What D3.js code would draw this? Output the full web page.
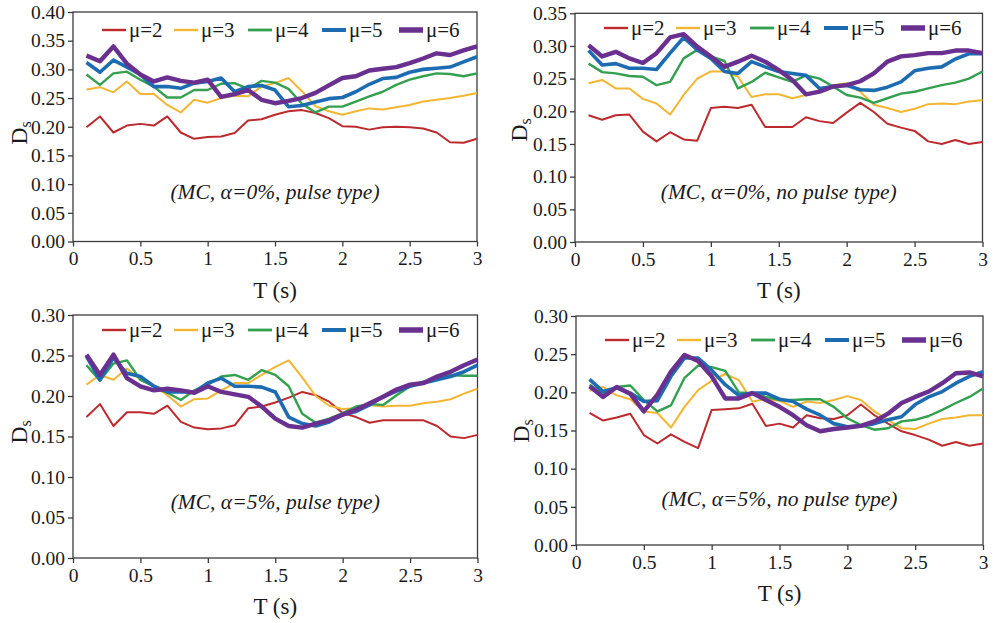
<!DOCTYPE html>
<html>
<head>
<meta charset="utf-8">
<script src="https://cdn.jsdelivr.net/npm/d3@7"></script>
<style>
	body { margin: 0; background: #fff; }
	svg text { font-family: "Liberation Serif", "Times New Roman", serif; fill: #1a1a1a; }
	.axis path, .axis line { stroke: #3c3c3c; stroke-width: 1.3; }
	.axis text { font-size: 19.5px; }
	.frame { fill: none; stroke: #3c3c3c; stroke-width: 1.3; }
	.series { fill: none; stroke-linejoin: round; }
</style>
</head>
<body>
<div id="chart-area"></div>
<script>

// SVG Size
var width = 997,
	height = 623;

// Period T (s)
var periods = [0.1, 0.2, 0.3, 0.4, 0.5, 0.6, 0.7, 0.8, 0.9, 1.0,
	1.1, 1.2, 1.3, 1.4, 1.5, 1.6, 1.7, 1.8, 1.9, 2.0,
	2.1, 2.2, 2.3, 2.4, 2.5, 2.6, 2.7, 2.8, 2.9, 3.0];

var seriesNames = ["μ=2", "μ=3", "μ=4", "μ=5", "μ=6"];
var xTicks = [0, 0.5, 1, 1.5, 2, 2.5, 3];

// MC, alpha=0%, pulse type
var a0Pulse2 = [0.199,0.218,0.190,0.202,0.205,0.202,0.218,0.190,0.179,0.182,0.183,0.189,0.211,0.213,0.221,0.227,0.229,0.224,0.215,0.201,0.200,0.195,0.199,0.200,0.199,0.197,0.190,0.173,0.172,0.179];
var a0Pulse3 = [0.265,0.269,0.260,0.279,0.257,0.257,0.238,0.225,0.247,0.242,0.250,0.254,0.253,0.270,0.276,0.285,0.262,0.236,0.227,0.221,0.227,0.232,0.230,0.234,0.238,0.244,0.247,0.250,0.254,0.259];
var a0Pulse4 = [0.291,0.273,0.293,0.296,0.282,0.270,0.251,0.251,0.264,0.264,0.275,0.276,0.266,0.280,0.277,0.266,0.240,0.225,0.235,0.235,0.244,0.253,0.261,0.273,0.282,0.288,0.293,0.292,0.288,0.293];
var a0Pulse5 = [0.312,0.295,0.316,0.304,0.291,0.270,0.270,0.267,0.276,0.279,0.285,0.261,0.270,0.272,0.264,0.235,0.237,0.243,0.249,0.251,0.261,0.274,0.284,0.286,0.295,0.300,0.302,0.304,0.313,0.322];
var a0Pulse6 = [0.324,0.314,0.340,0.310,0.291,0.279,0.286,0.280,0.277,0.282,0.252,0.257,0.264,0.247,0.241,0.245,0.250,0.259,0.272,0.285,0.288,0.298,0.301,0.304,0.311,0.319,0.328,0.325,0.333,0.340];

// MC, alpha=0%, no pulse type
var a0NoPulse2 = [0.194,0.187,0.194,0.195,0.169,0.154,0.168,0.157,0.155,0.205,0.207,0.205,0.210,0.176,0.176,0.176,0.191,0.185,0.182,0.198,0.213,0.199,0.181,0.175,0.170,0.154,0.150,0.156,0.150,0.153];
var a0NoPulse3 = [0.243,0.248,0.235,0.235,0.219,0.212,0.195,0.225,0.250,0.261,0.261,0.253,0.222,0.226,0.226,0.220,0.225,0.229,0.240,0.243,0.230,0.210,0.205,0.199,0.204,0.211,0.212,0.211,0.215,0.217];
var a0NoPulse4 = [0.273,0.260,0.258,0.254,0.253,0.240,0.245,0.281,0.294,0.284,0.277,0.235,0.245,0.259,0.252,0.245,0.255,0.250,0.238,0.225,0.221,0.213,0.220,0.227,0.230,0.235,0.240,0.244,0.250,0.261];
var a0NoPulse5 = [0.293,0.271,0.273,0.266,0.266,0.264,0.289,0.313,0.294,0.281,0.261,0.258,0.276,0.268,0.261,0.258,0.255,0.235,0.238,0.240,0.233,0.232,0.237,0.245,0.262,0.266,0.268,0.280,0.288,0.288];
var a0NoPulse6 = [0.301,0.284,0.291,0.281,0.274,0.289,0.313,0.318,0.299,0.284,0.268,0.276,0.285,0.276,0.263,0.248,0.226,0.230,0.238,0.240,0.246,0.258,0.276,0.284,0.286,0.289,0.289,0.293,0.293,0.289];

// MC, alpha=5%, pulse type
var a5Pulse2 = [0.174,0.190,0.163,0.180,0.180,0.178,0.188,0.168,0.161,0.159,0.160,0.164,0.185,0.187,0.192,0.198,0.205,0.201,0.193,0.179,0.174,0.167,0.170,0.170,0.170,0.170,0.163,0.150,0.148,0.152];
var a5Pulse3 = [0.214,0.226,0.220,0.234,0.220,0.212,0.201,0.187,0.196,0.197,0.207,0.216,0.216,0.226,0.236,0.244,0.223,0.200,0.188,0.184,0.185,0.189,0.187,0.188,0.188,0.191,0.193,0.196,0.203,0.209];
var a5Pulse4 = [0.238,0.219,0.240,0.244,0.220,0.212,0.204,0.195,0.207,0.214,0.224,0.226,0.220,0.232,0.226,0.212,0.178,0.167,0.172,0.179,0.187,0.190,0.189,0.201,0.212,0.218,0.222,0.226,0.225,0.225];
var a5Pulse5 = [0.249,0.220,0.247,0.228,0.224,0.212,0.205,0.205,0.205,0.216,0.222,0.212,0.212,0.211,0.205,0.174,0.166,0.163,0.168,0.177,0.181,0.189,0.199,0.206,0.212,0.216,0.220,0.224,0.230,0.238];
var a5Pulse6 = [0.251,0.226,0.251,0.222,0.212,0.207,0.209,0.207,0.204,0.212,0.205,0.202,0.199,0.187,0.172,0.163,0.161,0.166,0.170,0.177,0.183,0.191,0.199,0.208,0.214,0.216,0.224,0.230,0.238,0.245];

// MC, alpha=5%, no pulse type
var a5NoPulse2 = [0.173,0.163,0.167,0.172,0.144,0.133,0.145,0.135,0.127,0.177,0.178,0.179,0.185,0.156,0.159,0.154,0.170,0.166,0.165,0.170,0.184,0.170,0.159,0.149,0.144,0.138,0.130,0.135,0.130,0.133];
var a5NoPulse3 = [0.202,0.207,0.196,0.191,0.175,0.173,0.154,0.181,0.203,0.215,0.224,0.216,0.188,0.191,0.189,0.181,0.188,0.186,0.190,0.195,0.190,0.175,0.164,0.153,0.152,0.159,0.165,0.167,0.170,0.170];
var a5NoPulse4 = [0.210,0.199,0.207,0.209,0.190,0.175,0.183,0.219,0.235,0.233,0.228,0.200,0.199,0.194,0.190,0.190,0.191,0.191,0.181,0.166,0.157,0.151,0.153,0.162,0.164,0.169,0.177,0.186,0.194,0.205];
var a5NoPulse5 = [0.217,0.201,0.206,0.199,0.188,0.189,0.221,0.245,0.245,0.229,0.210,0.196,0.199,0.199,0.191,0.188,0.178,0.170,0.159,0.155,0.156,0.159,0.164,0.168,0.184,0.194,0.201,0.212,0.221,0.227];
var a5NoPulse6 = [0.208,0.194,0.207,0.198,0.175,0.197,0.227,0.249,0.241,0.221,0.192,0.192,0.199,0.190,0.181,0.170,0.157,0.149,0.152,0.154,0.156,0.162,0.172,0.186,0.194,0.201,0.212,0.225,0.226,0.221];

var colors = ["#bd2a2e", "#f2b632", "#33a04f", "#1d6cb2", "#6a3090"];
var lineWidths = [2, 2, 2.4, 3.6, 4.4];
var legendWidths = [2.4, 2.4, 2.8, 4, 5.5];

// panel layout
var panels = [
	{ series: [a0Pulse2, a0Pulse3, a0Pulse4, a0Pulse5, a0Pulse6], note: "(MC, α=0%, pulse type)",
	  left: 73, right: 477, top: 12, bottom: 241.5, yMax: 0.40, legendY: 30, noteY: 199, dsX: 19, dsY: 133 },
	{ series: [a0NoPulse2, a0NoPulse3, a0NoPulse4, a0NoPulse5, a0NoPulse6], note: "(MC, α=0%, no pulse type)",
	  left: 575, right: 982.5, top: 13.3, bottom: 242, yMax: 0.35, legendY: 28, noteY: 199, dsX: 519, dsY: 130 },
	{ series: [a5Pulse2, a5Pulse3, a5Pulse4, a5Pulse5, a5Pulse6], note: "(MC, α=5%, pulse type)",
	  left: 73, right: 477.5, top: 315, bottom: 558, yMax: 0.30, legendY: 330, noteY: 509, dsX: 19, dsY: 432 },
	{ series: [a5NoPulse2, a5NoPulse3, a5NoPulse4, a5NoPulse5, a5NoPulse6], note: "(MC, α=5%, no pulse type)",
	  left: 576, right: 983, top: 316, bottom: 545, yMax: 0.30, legendY: 340, noteY: 506, dsX: 521, dsY: 431 }
];

var legendOffsets = [0, 72, 146, 220, 297];

var svg = d3.select("#chart-area")
		.append("svg")
		.attr("width", width)
		.attr("height", height)
		.attr("font-family", "Liberation Serif, Times New Roman, serif");

panels.forEach(function(p){
	renderPanel(p);
});

function renderPanel(p){

	var g = svg.append("g");

	var xScale = d3.scaleLinear()
			.domain([0, 3])
			.range([p.left, p.right]);

	var yScale = d3.scaleLinear()
			.domain([0, p.yMax])
			.range([p.bottom, p.top]);

	// frame round the plot
	g.append("rect")
			.attr("class", "frame")
			.attr("x", p.left)
			.attr("y", p.top)
			.attr("width", p.right - p.left)
			.attr("height", p.bottom - p.top);

	var xAxis = d3.axisBottom(xScale)
			.tickValues(xTicks)
			.tickSize(5)
			.tickPadding(5)
			.tickFormat(d3.format("~g"));

	var yAxis = d3.axisLeft(yScale)
			.ticks(Math.round(p.yMax / 0.05))
			.tickSize(5)
			.tickPadding(3)
			.tickFormat(d3.format(".2f"));

	g.append("g")
			.attr("class", "axis x-axis")
			.attr("transform", "translate(0," + p.bottom + ")")
			.call(xAxis)
			.attr("font-family", null)
			.call(function(s){ s.select(".domain").remove(); });

	g.append("g")
			.attr("class", "axis y-axis")
			.attr("transform", "translate(" + p.left + ",0)")
			.call(yAxis)
			.attr("font-family", null)
			.call(function(s){ s.select(".domain").remove(); });

	// series lines
	var line = d3.line()
			.x(function(d, i){ return xScale(periods[i]); })
			.y(function(d){ return yScale(d); });

	p.series.forEach(function(values, k){
		g.append("path")
				.attr("class", "series")
				.attr("d", line(values))
				.attr("stroke", colors[k])
				.attr("stroke-width", lineWidths[k]);
	});

	// legend
	var legend = g.append("g")
			.attr("transform", "translate(" + (p.left + 29) + "," + p.legendY + ")");
	seriesNames.forEach(function(name, k){
		var item = legend.append("g")
				.attr("transform", "translate(" + legendOffsets[k] + ",0)");
		item.append("line")
				.attr("x1", 0).attr("x2", 24)
				.attr("y1", 0).attr("y2", 0)
				.attr("stroke", colors[k])
				.attr("stroke-width", legendWidths[k]);
		item.append("text")
				.attr("x", 27)
				.attr("y", 7)
				.style("font-size", "21px")
				.text(name);
	});

	// annotation
	g.append("text")
			.attr("x", (p.left + p.right) / 2)
			.attr("y", p.noteY)
			.attr("text-anchor", "middle")
			.style("font-size", "21.5px")
			.style("font-style", "italic")
			.text(p.note);

	// axis names
	g.append("text")
			.attr("x", (p.left + p.right) / 2)
			.attr("y", p.bottom + 56)
			.attr("text-anchor", "middle")
			.style("font-size", "23px")
			.text("T (s)");

	var ds = g.append("text")
			.attr("transform", "translate(" + p.dsX + "," + p.dsY + ") rotate(-90)")
			.attr("text-anchor", "middle")
			.attr("dy", "0.35em")
			.style("font-size", "24px");
	ds.append("tspan").text("D");
	ds.append("tspan").attr("dy", "0.25em").style("font-size", "16px").text("s");
}

</script>
</body>
</html>
